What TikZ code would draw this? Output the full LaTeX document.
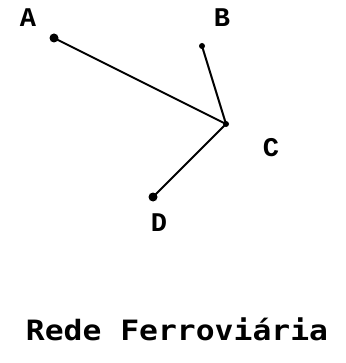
\documentclass[tikz,border=0pt]{standalone}
\usepackage{fontspec}
\setmainfont{Liberation Serif}
\newfontfamily\labfont{Liberation Mono}
\newfontfamily\titfont{DejaVu Sans Mono}
\begin{document}
\begin{tikzpicture}[x=1pt,y=-1pt,
  vtx/.style={circle,fill=black,inner sep=0pt,minimum size=9pt},
  lab/.style={font=\labfont\fontsize{27}{27}\selectfont\bfseries,inner sep=0pt},
  edge/.style={line width=2pt}]
\useasboundingbox (0,0) rectangle (345,363);
\node[vtx] (A) at (54,38) {};
\node[vtx,minimum size=6pt] (B) at (202,46) {};
\node[vtx,minimum size=6pt] (C) at (226,124) {};
\node[vtx] (D) at (153,197) {};
\draw[edge] (A.center) -- (C.center);
\draw[edge] (B.center) -- (C.center);
\draw[edge] (D.center) -- (C.center);
\node[lab] (lA) at (28,18) {A};
\node[lab] (lB) at (222,18) {B};
\node[lab] (lC) at (271,148) {C};
\node[lab] (lD) at (159,223) {D};
\node[inner sep=0pt] (title) at (177,329) {\scalebox{1.12}[1]{\titfont\fontsize{28}{28}\selectfont\bfseries Rede Ferroviária}};
\end{tikzpicture}
\end{document}
